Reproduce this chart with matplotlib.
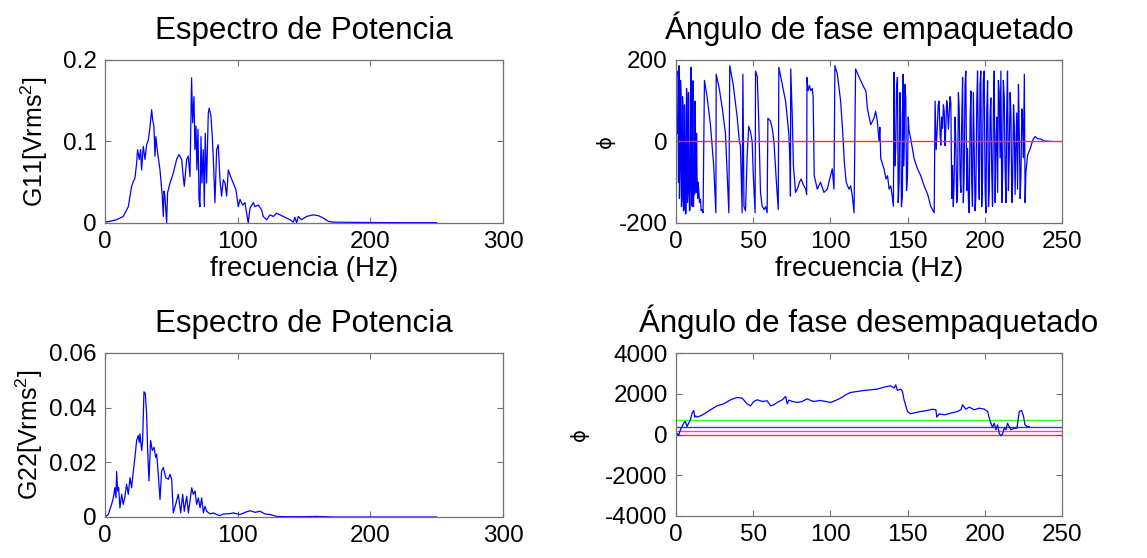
import numpy as np
import matplotlib
matplotlib.use('Agg')
import matplotlib.pyplot as plt

plt.rcParams['font.family'] = ['Liberation Sans', 'DejaVu Sans']
plt.rcParams['mathtext.fontset'] = 'custom'
plt.rcParams['mathtext.rm'] = 'Liberation Sans'
plt.rcParams['mathtext.it'] = 'Liberation Sans'
plt.rcParams['axes.unicode_minus'] = False

# --- data (frequency in Hz, value) ---
# power spectrum, channel 1
g11 = [(0, 0.001), (3.8, 0.002), (8.8, 0.004), (13.8, 0.008), (15.1, 0.012),
       (17.6, 0.020), (20.1, 0.045), (21.4, 0.051), (22.6, 0.055), (23.9, 0.074),
       (24.6, 0.090), (25.9, 0.078), (26.9, 0.090), (27.6, 0.065), (28.9, 0.094),
       (30.2, 0.078), (31.4, 0.096), (32.7, 0.102), (33.9, 0.117), (35.2, 0.139),
       (35.9, 0.127), (36.9, 0.119), (37.7, 0.082), (38.4, 0.106), (39.4, 0.090),
       (41.5, 0.065), (43.2, 0.033), (44.0, 0.008), (44.5, 0.039), (45.2, 0.033),
       (46.5, 0.000), (47.2, 0.037), (49.0, 0.049), (51.5, 0.061), (54.0, 0.078),
       (55.8, 0.084), (57.8, 0.078), (59.0, 0.057), (59.8, 0.045), (61.6, 0.078),
       (62.8, 0.082), (64.1, 0.057), (65.3, 0.178), (66.1, 0.123), (67.1, 0.155),
       (67.8, 0.090), (68.6, 0.119), (69.3, 0.065), (70.1, 0.115), (70.9, 0.029),
       (71.6, 0.020), (72.4, 0.106), (73.1, 0.049), (74.1, 0.090), (74.9, 0.020),
       (75.6, 0.110), (76.6, 0.049), (77.9, 0.135), (78.6, 0.141), (79.9, 0.131),
       (80.9, 0.106), (81.7, 0.078), (82.9, 0.025), (84.2, 0.090), (85.4, 0.096),
       (86.7, 0.053), (87.9, 0.033), (89.2, 0.053), (90.5, 0.049), (91.7, 0.033),
       (93.0, 0.065), (94.7, 0.057), (96.7, 0.049), (98.7, 0.041), (100.5, 0.020),
       (101.8, 0.029), (103.8, 0.022), (105.5, 0.025), (106.8, 0.012), (108.0, 0.000),
       (109.3, 0.018), (111.8, 0.025), (113.1, 0.020), (115.6, 0.022), (118.1, 0.016),
       (119.3, 0.008), (121.9, 0.004), (124.4, 0.010), (126.9, 0.008), (129.4, 0.012),
       (131.9, 0.010), (134.4, 0.008), (136.9, 0.006), (139.4, 0.004), (142.0, 0.001),
       (143.2, 0.007), (144.5, 0.000), (145.7, 0.008), (148.2, 0.004), (152.0, 0.008),
       (157.0, 0.010), (160.8, 0.009), (164.6, 0.006), (168.3, 0.002), (172.1, 0.001),
       (184.7, 0.0008), (197.2, 0.0006), (222.4, 0.0004), (250, 0.0004)]

# power spectrum, channel 2
g22 = [(0, 0), (2.5, 0.0009), (5.0, 0.0046), (6.3, 0.0070), (7.5, 0.0107),
       (8.3, 0.0070), (8.8, 0.0166), (9.6, 0.0095), (10.3, 0.0107), (11.3, 0.0033),
       (12.6, 0.0083), (13.8, 0.0046), (15.1, 0.0076), (16.3, 0.0120), (17.6, 0.0083),
       (18.9, 0.0144), (20.1, 0.0107), (21.4, 0.0169), (22.6, 0.0218), (23.9, 0.0280),
       (25.1, 0.0298), (25.9, 0.0273), (26.4, 0.0304), (27.7, 0.0243), (28.4, 0.0280),
       (29.4, 0.0458), (30.4, 0.0452), (31.4, 0.0378), (32.2, 0.0243), (33.2, 0.0132),
       (34.4, 0.0280), (35.7, 0.0243), (37.0, 0.0255), (38.2, 0.0218), (39.0, 0.0230),
       (40.2, 0.0156), (41.5, 0.0064), (42.7, 0.0169), (44.0, 0.0181), (45.8, 0.0144),
       (47.8, 0.0138), (49.0, 0.0156), (50.3, 0.0138), (51.5, 0.0015), (53.3, 0.0046),
       (55.3, 0.0083), (57.1, 0.0015), (58.6, 0.0083), (59.8, 0.0021), (61.6, 0.0076),
       (62.9, 0.0015), (64.1, 0.0058), (65.4, 0.0107), (66.6, 0.0083), (67.9, 0.0095),
       (69.1, 0.0046), (70.4, 0.0070), (71.7, 0.0033), (72.9, 0.0070), (74.2, 0.0015),
       (75.4, 0.0039), (76.7, 0.0021), (79.2, 0.0011), (81.7, 0.0015), (84.2, 0.0009),
       (86.7, 0.0005), (89.3, 0.0011), (94.3, 0.0012), (96.8, 0.0015), (101.8, 0.0009),
       (105.6, 0.0017), (109.4, 0.0023), (113.2, 0.0017), (116.9, 0.0021), (120.7, 0.0011),
       (124.5, 0.0009), (129.5, 0.0002), (137.0, 0.0001), (147.1, 0.0001), (159.7, 0.0002),
       (172.2, 0), (250, 0)]

# wrapped phase angle (degrees)
fase = [(0.0, 107), (0.3, 160), (0.6, 173), (0.9, 20), (1.3, 66), (1.6, -100),
        (1.9, 186), (2.2, -140), (2.6, -67), (2.9, 150), (3.2, 124), (3.5, -160),
        (3.9, -142), (4.2, 110), (4.5, 82), (4.8, -170), (5.2, -167), (5.5, 90),
        (5.8, 16), (6.1, -178), (6.5, -175), (6.8, 130), (7.1, 107), (7.4, -150),
        (7.8, -125), (8.1, 120), (8.4, -17), (8.7, -170), (9.1, -167), (9.4, 60),
        (9.7, 182), (10.0, -120), (10.4, -159), (10.7, 100), (11.0, 149), (11.3, -160),
        (11.7, -34), (12.0, -130), (12.3, 99), (12.6, -80), (13.0, -125), (13.3, 20),
        (13.6, -84), (14.0, -140), (14.3, -100), (14.7, -117), (15.2, -150),
        (15.8, -142), (16.3, -170), (16.9, -167), (17.5, -175),
        (18.4, 150), (20.1, 110), (22.3, 40), (24.4, -60), (25.8, -175),
        (26.0, 165), (28.0, 130), (30.0, 80), (32.0, 20), (34.2, -175),
        (34.8, 186), (37.0, 140), (39.6, 60), (41.0, 0), (41.7, -9), (42.8, -175),
        (43.3, 165), (44.0, -160), (45.0, -170), (46.1, -30), (47.1, 37), (48.2, 24),
        (49.3, 0), (50.0, -80), (51.2, -175),
        (51.5, 173), (52.6, 160), (53.5, 60), (54.7, -125), (55.8, -159), (57.0, -167),
        (58.0, -160), (59.0, -175),
        (59.5, 57), (61.2, 50), (62.3, 32), (63.4, 0), (65.0, -100), (66.2, -167),
        (66.6, 182), (68.8, 140), (70.9, 100), (72.0, 60), (73.1, 16), (73.8, -50),
        (74.1, -134), (74.3, 178), (75.3, 60), (76.0, -59), (77.4, -125), (78.5, -117),
        (80.0, -100), (81.0, -92), (82.8, -109), (84.0, -117), (84.6, -130),
        (84.8, 157), (85.5, 125), (86.5, 137), (87.2, 125), (88.2, 130), (88.8, 110),
        (89.5, -84), (91.5, -117), (93.6, -100), (95.8, -125), (98.0, -117), (99.0, -100),
        (100.1, -84), (101.2, -67), (102.3, -117),
        (102.9, 186), (104.5, 165), (106.6, 99), (108.0, 20), (109.0, -50), (110.2, -100),
        (112.0, -117), (113.1, -109), (114.2, -134), (115.3, -175),
        (116.3, 178), (119.6, 149), (121.8, 132), (123.0, 124), (123.9, 82), (126.1, 41),
        (128.2, 57), (129.3, 74), (130.4, 49), (131.5, 0), (132.0, 35), (132.6, -42),
        (134.7, -67), (136.0, -92), (137.0, -84), (138.0, -117), (139.1, -109),
        (140.0, -134), (140.8, -159),
        (141.2, 170), (141.7, -60), (142.3, -17), (142.8, 130), (143.4, 157),
        (143.9, -150), (144.5, -100), (145.0, 120), (145.5, 66), (146.0, -160),
        (146.6, -134), (147.1, 165), (147.4, -60), (147.7, -17), (148.2, 140),
        (148.8, 107), (149.3, -120), (149.9, -84), (150.4, 60), (151.0, 24),
        (152.0, 7), (154.2, -42), (156.4, -67), (158.5, -84), (160.7, -109),
        (163.0, -130), (165.0, -159), (167.2, -175),
        (167.8, 99), (168.5, -20), (169.3, 41), (169.8, 90), (170.4, 99), (171.0, 20),
        (171.5, -9), (172.0, 60), (172.6, 32), (173.2, 90), (173.7, 74), (174.2, -10),
        (174.7, 32), (175.3, 100), (175.8, 82), (176.4, 30), (176.9, 66), (177.5, 110),
        (178.0, 95), (178.6, -140), (179.1, -59), (179.6, -160), (180.1, -100),
        (180.7, 60), (181.2, 0), (181.8, -150), (182.3, -134), (182.9, 120),
        (183.4, 82), (184.0, -90), (184.5, -125), (185.0, 40), (185.6, 157),
        (186.1, -150), (186.6, -84), (187.2, 140), (187.7, 173), (188.3, -120),
        (188.8, -17), (189.4, -150), (189.9, -175), (190.5, 60), (191.0, 124),
        (191.5, -100), (192.0, -159), (192.6, 120), (193.1, -17), (193.7, -170),
        (194.2, -134), (194.8, 100), (195.3, 173), (195.9, -60), (196.4, -142),
        (196.9, 140), (197.4, 173), (198.0, -160), (198.5, -100), (199.0, 150),
        (199.6, 173), (200.2, -120), (200.7, -175), (201.3, 80), (201.8, 149),
        (202.4, -160), (202.9, -117), (203.4, 60), (203.9, 107), (204.5, -80),
        (205.0, -159), (205.6, 90), (206.1, 173), (206.7, -150), (207.2, -17),
        (207.8, 60), (208.3, -125), (208.8, 150), (209.3, 124), (209.9, -40),
        (210.4, 173), (211.0, -150), (211.5, -84), (212.0, 150), (212.6, 107),
        (213.1, -60), (213.7, -150), (214.2, 80), (214.7, 173), (215.3, -120),
        (215.8, -42), (216.4, 120), (216.9, 66), (217.5, -150), (218.0, -100),
        (218.6, 90), (219.1, 41), (219.6, -130), (220.1, -17), (220.7, 70),
        (221.2, -117), (221.8, 140), (222.3, 24), (222.9, -140), (223.4, -84),
        (224.0, 80), (224.5, 49), (225.0, -40), (225.6, 165), (226.1, -150),
        (226.6, -76), (227.7, -34), (229.5, -17), (231.0, 3), (232.5, 12),
        (234.2, 7), (236.4, 6), (238.5, 1), (240.7, 1), (242.9, 0)]

# unwrapped phase angle (degrees)
fase_desemp = [(0, -180), (0.6, 66), (1.7, -50), (2.8, 230), (3.9, 393), (5.0, 557),
               (6.0, 640), (7.1, 393), (8.2, 560), (9.3, 721), (10.4, 1049),
               (11.5, 1180), (12.1, 852), (12.8, 920), (13.6, 852), (15.8, 918),
               (18.0, 1000), (22.3, 1213), (26.6, 1410), (30.9, 1508), (35.3, 1705),
               (39.6, 1820), (42.8, 1787), (46.0, 1508), (48.2, 1410), (50.4, 1623),
               (52.6, 1705), (55.8, 1623), (59.0, 1655), (61.2, 1410), (63.4, 1460),
               (65.5, 1573), (68.8, 1705), (71.0, 1868), (72.0, 1508), (73.1, 1690),
               (75.3, 1623), (78.5, 1573), (81.7, 1623), (85.0, 1754), (87.2, 1672),
               (89.3, 1623), (93.6, 1672), (96.9, 1623), (100.1, 1573), (103.4, 1672),
               (106.6, 1787), (109.9, 1950), (113.1, 2065), (117.4, 2114), (121.8, 2163),
               (126.1, 2196), (130.4, 2229), (134.7, 2327), (139.0, 2393), (141.2, 2280),
               (142.3, 2442), (143.4, 2163), (145.5, 2229), (146.6, 2114), (147.7, 1705),
               (149.9, 1131), (152.0, 1016), (155.3, 1082), (158.5, 1131), (162.8, 1180),
               (166.1, 1246), (168.3, 1213), (168.9, 852), (170.4, 1016), (173.7, 967),
               (178.0, 1049), (182.3, 1131), (184.5, 1213), (185.6, 1459), (187.7, 1246),
               (189.9, 1344), (193.1, 1213), (196.4, 1295), (199.6, 1246), (201.8, 1131),
               (202.9, 803), (203.9, 557), (205.0, 360), (206.1, 557), (207.2, 230),
               (208.3, 475), (209.3, 66), (210.4, -66), (211.5, 33), (212.6, 311),
               (213.7, 230), (214.7, 557), (215.8, 393), (216.9, 230), (219.1, 311),
               (220.8, 311), (222.3, 1131), (223.8, 1180), (225.1, 885), (226.0, 475),
               (227.3, 393), (228.8, 393)]

# reference levels drawn on the unwrapped phase plot
niveles = [0, 180, 360, 720]
colores_niveles = ['#ff0000', '#ff00ff', '#0000ff', '#00ff00']

titulos = ['Espectro de Potencia', 'Ángulo de fase empaquetado',
           'Espectro de Potencia', 'Ángulo de fase desempaquetado']

g11 = np.array(g11).T
g22 = np.array(g22).T
fase = np.array(fase).T
fase_desemp = np.array(fase_desemp).T

fig = plt.figure(figsize=(11.47, 5.58), dpi=100)
ax1 = fig.add_axes([0.0915, 0.6004, 0.347, 0.2921])
ax2 = fig.add_axes([0.5894, 0.6004, 0.3365, 0.2921])
ax3 = fig.add_axes([0.0915, 0.0735, 0.347, 0.294])
ax4 = fig.add_axes([0.5894, 0.0753, 0.3365, 0.292])

azul = '#0000ff'
lw = 0.9

ax1.plot(g11[0], g11[1], color=azul, lw=lw)
ax1.set_xlim(0, 300)
ax1.set_ylim(0, 0.2)
ax1.set_xticks([0, 100, 200, 300])
ax1.set_yticks([0, 0.1, 0.2])
ax1.set_yticklabels(['0', '0.1', '0.2'])
ax1.set_ylabel('G11[Vrms$^2$]', fontsize=18)
ax1.yaxis.set_label_coords(-0.138, 0.5)
ax1.set_xlabel('frecuencia (Hz)', fontsize=20, labelpad=2)

ax2.plot(fase[0], fase[1], color=azul, lw=lw)
ax2.plot([0, 250], [0, 0], color='#ff3030', lw=1.0)
ax2.set_xlim(0, 250)
ax2.set_ylim(-200, 200)
ax2.set_xticks([0, 50, 100, 150, 200, 250])
ax2.set_yticks([-200, 0, 200])
ax2.set_ylabel('ϕ', fontsize=14, family=['DejaVu Sans'])
ax2.yaxis.set_label_coords(-0.158, 0.5)
ax2.set_xlabel('frecuencia (Hz)', fontsize=20, labelpad=2)

ax3.plot(g22[0], g22[1], color=azul, lw=lw)
ax3.set_xlim(0, 300)
ax3.set_ylim(0, 0.06)
ax3.set_xticks([0, 100, 200, 300])
ax3.set_yticks([0, 0.02, 0.04, 0.06])
ax3.set_yticklabels(['0', '0.02', '0.04', '0.06'])
ax3.set_ylabel('G22[Vrms$^2$]', fontsize=18)
ax3.yaxis.set_label_coords(-0.15, 0.5)

for nivel, c in zip(niveles, colores_niveles):
    ax4.plot([0, 250], [nivel, nivel], color=c, lw=1.0, alpha=0.8)
ax4.plot(fase_desemp[0], fase_desemp[1], color=azul, lw=lw)
ax4.set_xlim(0, 250)
ax4.set_ylim(-4000, 4000)
ax4.set_xticks([0, 50, 100, 150, 200, 250])
ax4.set_yticks([-4000, -2000, 0, 2000, 4000])
ax4.set_ylabel('ϕ', fontsize=14, family=['DejaVu Sans'])
ax4.yaxis.set_label_coords(-0.225, 0.5)

for ax, t in zip([ax1, ax2, ax3, ax4], titulos):
    ax.set_title(t, fontsize=22.5, pad=15)
    ax.tick_params(direction='in', top=True, right=True, length=4,
                   width=0.8, color='0.45', labelsize=17.5, pad=6)
    for s in ax.spines.values():
        s.set_color('0.45')
        s.set_linewidth(0.9)

fig.savefig('out.png', dpi=100)
